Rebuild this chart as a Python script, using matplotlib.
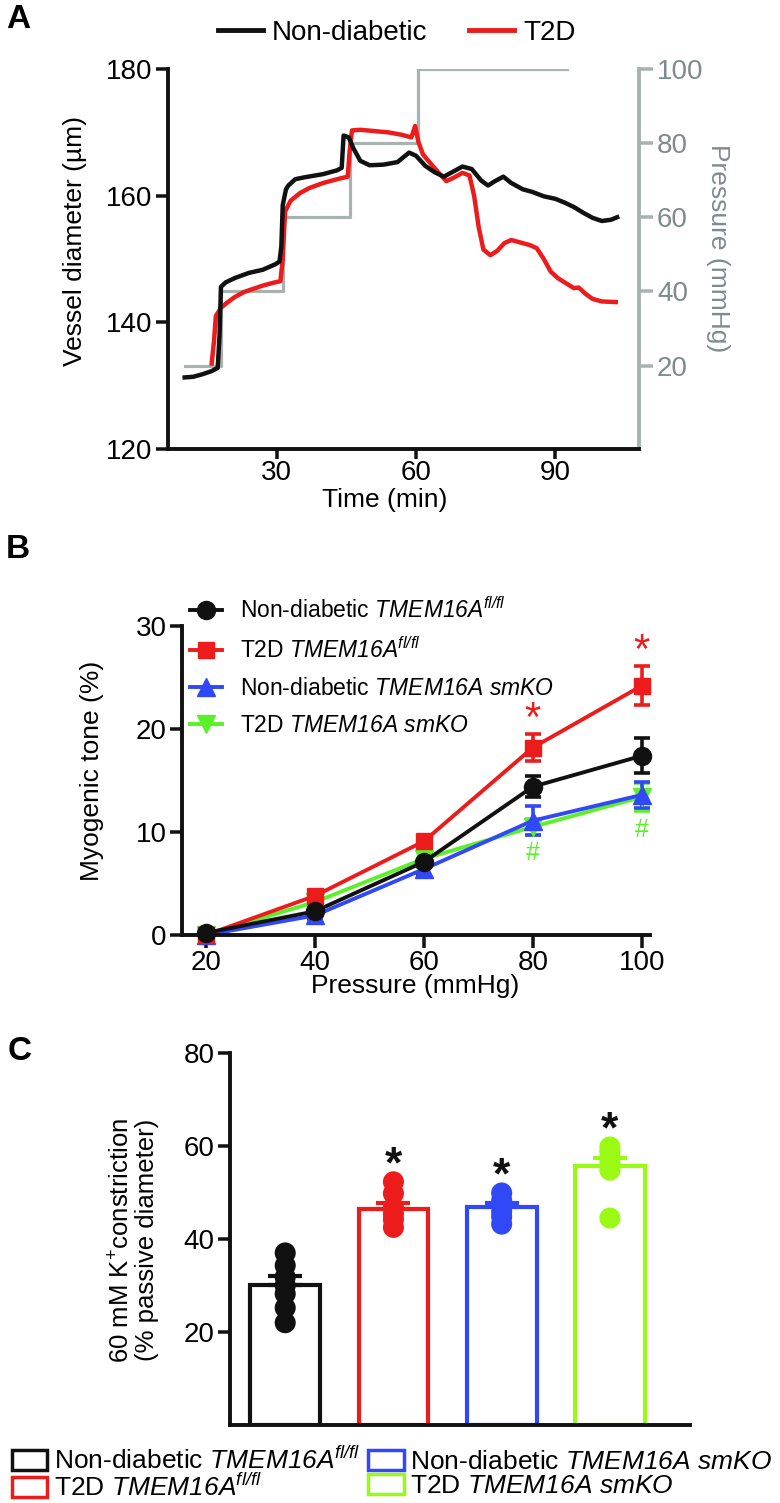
"""
Three-panel figure: vessel diameter trace, myogenic tone curves, K+ constriction bars
"""

import matplotlib
matplotlib.use("Agg")
import matplotlib.pyplot as plt
from matplotlib.lines import Line2D
from matplotlib.patches import Patch

# ---------------- data ----------------
# Panel A: diameter traces (time in min, diameter in um)
nd_time = [10.2, 12, 14, 16, 17.3, 17.7, 18.0, 19, 21, 24, 27, 29.8, 30.6, 31.0, 31.3,
           32, 32.5, 34, 36, 40, 43, 44, 44.4, 45.5, 46.5, 48, 50, 53, 56, 58.5, 60,
           62, 64, 66, 68, 70, 72, 74, 75.5, 77, 78.8, 80.5, 83, 85, 87.5, 90, 92,
           94, 96, 98, 100, 102, 103.3]
nd_diam = [131.3, 131.4, 131.8, 132.3, 132.8, 138.0, 145.6, 146.3, 147.0, 147.8, 148.3,
           149.2, 149.6, 152.0, 158.5, 161.0, 161.6, 162.6, 162.9, 163.4, 164.0, 164.4,
           169.5, 169.2, 167.5, 165.5, 164.8, 164.9, 165.3, 166.8, 166.3, 164.7, 163.7,
           163.0, 163.8, 164.6, 164.2, 162.4, 161.6, 162.3, 163.0, 162.0, 161.0, 160.6,
           159.9, 159.5, 158.9, 158.2, 157.3, 156.5, 156.0, 156.2, 156.6]

t2d_time = [16.0, 16.5, 16.9, 18, 19.5, 21, 23, 25, 27, 29, 30.8, 31.3, 31.8, 33, 35,
            37, 40, 43, 45.3, 45.7, 46.2, 48, 51, 54, 57, 59, 59.8, 60.5, 61.5, 63, 65,
            66.5, 68, 70, 71.5, 72.5, 73.5, 74.5, 76, 77.5, 79, 80.5, 82.5, 84.5, 86,
            87.5, 89, 90.5, 92, 94, 95, 96.5, 98, 100, 103]
t2d_diam = [133.5, 137.0, 141.0, 142.3, 143.2, 144.0, 144.8, 145.3, 145.8, 146.2, 146.5,
            150.0, 157.5, 159.2, 160.4, 161.2, 162.0, 162.6, 163.0, 167.0, 170.3, 170.4,
            170.2, 170.0, 169.6, 169.2, 171.0, 168.5, 166.5, 165.2, 163.5, 162.3, 162.8,
            163.6, 163.2, 160.0, 155.0, 151.5, 150.6, 151.3, 152.5, 153.0, 152.6, 152.2,
            151.7, 150.0, 148.0, 147.0, 146.3, 145.4, 145.5, 144.5, 143.7, 143.3, 143.2]

# pressure protocol (steps)
step_time = [10.2, 18.0, 31.3, 45.8, 60.5, 92.5]
step_press = [20, 40, 60, 80, 100, 100]

# Panel B: myogenic tone
pressures = [20, 40, 60, 80, 100]
tone_nd_fl = [0.2, 2.3, 7.1, 14.4, 17.4]
sem_nd_fl = [0.3, 0.4, 1.4, 1.0, 1.7]
tone_t2d_fl = [0.0, 3.8, 9.1, 18.2, 24.2]
sem_t2d_fl = [0.3, 0.4, 0.5, 1.3, 1.9]
tone_nd_ko = [0.0, 1.9, 6.4, 11.1, 13.6]
sem_nd_ko = [0.2, 0.3, 0.8, 1.4, 1.3]
tone_t2d_ko = [0.0, 3.2, 7.4, 10.5, 13.4]
sem_t2d_ko = [0.2, 0.4, 0.8, 0.8, 1.4]
star_press = [80, 100]      # red * (T2D fl/fl vs ND fl/fl)
hash_press = [80, 100]      # green # (T2D smKO vs T2D fl/fl)

# Panel C: 60 mM K+ constriction
groups = ["nd_fl", "t2d_fl", "nd_ko", "t2d_ko"]
k_means = [30.1, 46.5, 46.9, 55.6]
k_sem = [1.9, 1.2, 0.8, 1.8]
k_points = [
    [37.0, 34.3, 31.8, 30.0, 28.2, 25.2, 22.0],
    [52.3, 49.8, 46.8, 45.4, 44.2, 42.5],
    [49.9, 48.3, 47.2, 45.9, 44.8, 43.2],
    [59.8, 58.8, 57.6, 56.4, 54.8, 44.5],
]
k_star = [False, True, True, True]

# ---------------- style ----------------
plt.rcParams["font.family"] = ["Liberation Sans", "DejaVu Sans"]
plt.rcParams["mathtext.fontset"] = "custom"
plt.rcParams["mathtext.rm"] = "Liberation Sans"
plt.rcParams["mathtext.it"] = "Liberation Sans:italic"
# sf slot used for gene names so digits come out italic too
plt.rcParams["mathtext.sf"] = "Liberation Sans:italic"

BLACK = "#111111"
RED = "#EC1C1C"
BLUE = "#3048F5"
GREEN_B = "#5CF02A"
GREEN_C = "#9BFA14"
GREY_LINE = "#A9B1B1"
GREY_TEXT = "#7E8A8B"

TICK_FS = 20
LABEL_FS = 19
SPINE_W = 2.8

W, H = 780, 1503
fig = plt.figure(figsize=(W / 100, H / 100), dpi=100)


def rect(left, top, right, bottom):
    return [left / W, 1 - bottom / H, (right - left) / W, (bottom - top) / H]


def style_axes(ax):
    for side in ["top", "right"]:
        ax.spines[side].set_visible(False)
    for side in ["left", "bottom"]:
        ax.spines[side].set_linewidth(SPINE_W)
        ax.spines[side].set_color(BLACK)
    ax.tick_params(width=SPINE_W * 0.9, length=9, labelsize=TICK_FS, color=BLACK, pad=2)


# ---------------- Panel A ----------------
axA = fig.add_axes(rect(168, 69, 639, 449))
axA.plot(nd_time, nd_diam, color=BLACK, lw=3.2, zorder=3)
axA.plot(t2d_time, t2d_diam, color=RED, lw=3.2, zorder=2)
axA.set_xlim(6.6, 108)
axA.set_ylim(120, 180)
axA.set_yticks([120, 140, 160, 180])
axA.set_xticks([30, 60, 90])
style_axes(axA)
axA.tick_params(axis="x", length=7, pad=1)

axA2 = axA.twinx()
axA2.plot(step_time, step_press, color=GREY_LINE, lw=2.3, drawstyle="steps-post", zorder=1)
axA2.set_ylim(-2.5, 100)
axA2.set_yticks([20, 40, 60, 80, 100])
for side in ["top", "left", "bottom"]:
    axA2.spines[side].set_visible(False)
axA2.spines["right"].set_linewidth(SPINE_W)
axA2.spines["right"].set_color(GREY_LINE)
axA2.tick_params(width=SPINE_W * 0.9, length=10, labelsize=TICK_FS, color=GREY_LINE,
                 labelcolor=GREY_TEXT, pad=3)
axA.set_zorder(axA2.get_zorder() + 1)
axA.patch.set_visible(False)

fig.text(75 / W, 1 - 241 / H, "Vessel diameter (\u00b5m)", rotation=90, ha="center",
         va="center", fontsize=LABEL_FS)
fig.text(718 / W, 1 - 248 / H, "Pressure (mmHg)", rotation=270, ha="center",
         va="center", fontsize=LABEL_FS, color=GREY_TEXT)
fig.text(385 / W, 1 - 500 / H, "Time (min)", ha="center", va="center", fontsize=LABEL_FS)

legA = [Line2D([], [], color=BLACK, lw=3.5), Line2D([], [], color=RED, lw=3.5)]
fig.legend(legA, ["Non-diabetic", "T2D"], loc="center", bbox_to_anchor=(397 / W, 1 - 33 / H),
           ncol=2, frameon=False, fontsize=20, handlelength=1.6, handletextpad=0.35,
           columnspacing=1.5, borderpad=0)

# ---------------- Panel B ----------------
axB = fig.add_axes(rect(182, 626, 650, 935))
series_b = [
    (tone_t2d_ko, sem_t2d_ko, GREEN_B, "v", 13),
    (tone_nd_ko, sem_nd_ko, BLUE, "^", 13),
    (tone_t2d_fl, sem_t2d_fl, RED, "s", 12),
    (tone_nd_fl, sem_nd_fl, BLACK, "o", 13),
]
for vals, errs, col, mk, ms in series_b:
    axB.errorbar(pressures, vals, yerr=errs, color=col, marker=mk, ms=ms, lw=2.8,
                 elinewidth=2.6, capsize=5.5, capthick=2.6, clip_on=False)
axB.set_xlim(15.6, 101.5)
axB.set_ylim(0, 30)
axB.set_xticks(pressures)
axB.set_yticks([0, 10, 20, 30])
style_axes(axB)

for p in star_press:
    i = pressures.index(p)
    axB.text(p, tone_t2d_fl[i] + sem_t2d_fl[i] - 0.6, "*", color=RED, ha="center",
             va="bottom", fontsize=30)
for p in hash_press:
    i = pressures.index(p)
    axB.text(p, tone_t2d_ko[i] - sem_t2d_ko[i] - 0.6, "#", color=GREEN_B, ha="center",
             va="top", fontsize=18)

fig.text(92 / W, 1 - 771 / H, "Myogenic tone (%)", rotation=90, ha="center", va="center",
         fontsize=LABEL_FS)
fig.text(415 / W, 1 - 986 / H, "Pressure (mmHg)", ha="center", va="center", fontsize=LABEL_FS)

labels_b = [
    r"Non-diabetic $\mathsf{TMEM16A}^{\mathsf{fl/fl}}$",
    r"T2D $\mathsf{TMEM16A}^{\mathsf{fl/fl}}$",
    r"Non-diabetic $\mathsf{TMEM16A\ smKO}$",
    r"T2D $\mathsf{TMEM16A\ smKO}$",
]
handles_b = [
    Line2D([], [], color=BLACK, marker="o", ms=13, lw=2.8),
    Line2D([], [], color=RED, marker="s", ms=12, lw=2.8),
    Line2D([], [], color=BLUE, marker="^", ms=13, lw=2.8),
    Line2D([], [], color=GREEN_B, marker="v", ms=13, lw=2.8),
]
fig.legend(handles_b, labels_b, loc="center left", bbox_to_anchor=(190 / W, 1 - 667 / H),
           frameon=False, fontsize=16.5, handlelength=1.4, handletextpad=0.8,
           labelspacing=0.62, borderpad=0, borderaxespad=0)

# ---------------- Panel C ----------------
axC = fig.add_axes(rect(230, 1053, 690, 1425))
colors_c = [BLACK, RED, BLUE, GREEN_C]
xs = list(range(len(groups)))
axC.bar(xs, k_means, width=0.645, facecolor="none", edgecolor=colors_c, linewidth=3.0,
        zorder=2)
for x, m, s, pts, col, star in zip(xs, k_means, k_sem, k_points, colors_c, k_star):
    axC.errorbar([x], [m], yerr=[[0], [s]], color=col, lw=0, elinewidth=3.0, capsize=12.5,
                 capthick=3.0, zorder=3)
    axC.scatter([x] * len(pts), pts, s=230, color=col, edgecolors="none", zorder=4)
    if star:
        axC.text(x, max(pts) - 1.0, "*", ha="center", va="bottom", fontsize=32,
                 fontweight="bold", color=BLACK, zorder=5)
axC.set_xlim(-0.51, 3.74)
axC.set_ylim(0, 80)
axC.set_xticks([])
axC.set_yticks([20, 40, 60, 80])
style_axes(axC)

fig.text(134 / W, 1 - 1240 / H, "60 mM K$^{+}$constriction\n(% passive diameter)",
         rotation=90, ha="center", va="center", fontsize=18.5, linespacing=1.0)

labels_c = [
    r"Non-diabetic $\mathsf{TMEM16A}^{\mathsf{fl/fl}}$",
    r"T2D $\mathsf{TMEM16A}^{\mathsf{fl/fl}}$",
    r"Non-diabetic $\mathsf{TMEM16A\ smKO}$",
    r"T2D $\mathsf{TMEM16A\ smKO}$",
]
handles_c = [Patch(facecolor="none", edgecolor=c, linewidth=2.5) for c in colors_c]
fig.legend(handles_c, labels_c, loc="center", bbox_to_anchor=(392 / W, 1 - 1474 / H),
           ncol=2, frameon=False, fontsize=19, handlelength=1.35, handleheight=0.8,
           handletextpad=0.25, columnspacing=0.3, labelspacing=0.0, borderpad=0)

# panel letters
for letter, (px, py) in {"A": (18, 20), "B": (18, 550), "C": (20, 1052)}.items():
    fig.text(px / W, 1 - py / H, letter, ha="center", va="center", fontsize=24,
             fontweight="bold")

fig.savefig("out.png", dpi=100)
